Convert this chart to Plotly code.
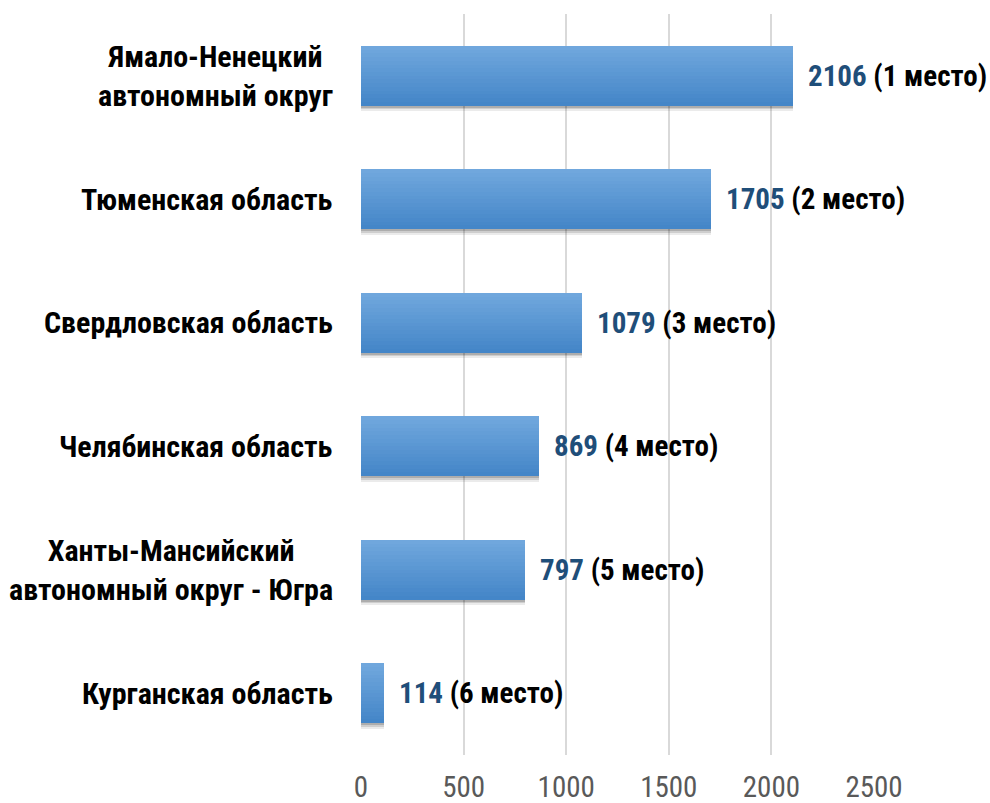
import plotly.graph_objects as go

regions = [
    "Ямало-Ненецкий<br>автономный округ",
    "Тюменская область",
    "Свердловская область",
    "Челябинская область",
    "Ханты-Мансийский<br>автономный округ - Югра",
    "Курганская область",
]
values = [2106, 1705, 1079, 869, 797, 114]
places = ["1 место", "2 место", "3 место", "4 место", "5 место", "6 место"]
tick_vals = [0, 500, 1000, 1500, 2000, 2500]
tick_text = ["0", "500", "1000", "1500", "2000", "2500"]

FONT = "Liberation Sans Narrow, Arial Narrow, Roboto Condensed, Liberation Sans, sans-serif"
BAR_W = 0.485
N = 16
top_rgb = (112, 167, 221)
bot_rgb = (68, 134, 200)

fig = go.Figure()

# soft shadow under bars
for dy, a in [(0.045, 0.08), (0.03, 0.12), (0.018, 0.16)]:
    fig.add_bar(
        y=regions, x=values, orientation="h",
        offset=-BAR_W / 2 + dy, width=BAR_W,
        marker=dict(color=f"rgba(0,0,0,{a})", line_width=0),
        hoverinfo="skip", showlegend=False,
    )

# vertical gradient built from thin slices
for i in range(N):
    t = i / (N - 1)
    c = tuple(round(top_rgb[j] + (bot_rgb[j] - top_rgb[j]) * t) for j in range(3))
    fig.add_bar(
        y=regions, x=values, orientation="h",
        offset=-BAR_W / 2 + i * BAR_W / N,
        width=BAR_W / N * (1.08 if i < N - 1 else 1.0),
        marker=dict(color=f"rgb{c}", line_width=0),
        hoverinfo="skip", showlegend=False,
    )

annotations = []
for r, v, p in zip(regions, values, places):
    annotations.append(dict(
        x=v, y=r, xref="x", yref="y", xanchor="left", yanchor="middle",
        xshift=13, showarrow=False,
        text=f"<b><span style='color:#1F4E79'>{v}</span> ({p})</b>",
        font=dict(family=FONT, size=29, color="#000000"),
    ))
    annotations.append(dict(
        x=0, y=r, xref="paper", yref="y", xanchor="right", yanchor="middle",
        xshift=-26, showarrow=False, align="center",
        text=f"<b>{r}</b>",
        font=dict(family=FONT, size=30, color="#000000"),
    ))

fig.update_layout(
    width=990, height=803,
    margin=dict(l=361, r=116, t=14, b=48, autoexpand=False),
    paper_bgcolor="white", plot_bgcolor="white",
    barmode="overlay", bargap=0,
    showlegend=False,
    annotations=annotations,
    xaxis=dict(
        range=[0, 2500], tickvals=tick_vals, ticktext=tick_text,
        showgrid=True, gridcolor="#D9D9D9", gridwidth=2,
        zeroline=False, showline=False, ticks="",
        ticklabelstandoff=12, automargin=False,
        tickfont=dict(family=FONT, size=29, color="#595959"),
    ),
    yaxis=dict(
        categoryorder="array", categoryarray=regions,
        autorange="reversed", showticklabels=False, automargin=False,
        showgrid=False, zeroline=False, showline=False, ticks="",
    ),
)

fig.write_html(
    "out.html",
    config={"displayModeBar": False},
    post_script="document.body.style.margin='0';document.body.style.padding='0';",
)
